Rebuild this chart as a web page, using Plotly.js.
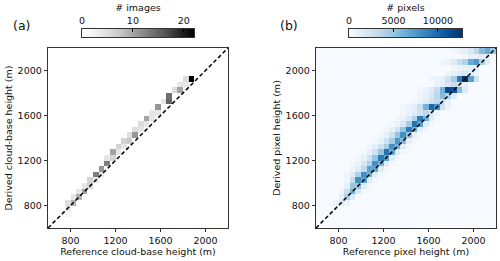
<!DOCTYPE html>
<html>
<head>
<meta charset="utf-8">
<script src="https://cdn.plot.ly/plotly-3.0.1.min.js"></script>
<style>html,body{margin:0;padding:0;background:#fff;}#chart{width:500px;height:261px;}</style>
</head>
<body>
<div id="chart"></div>
<script>
// Bin edges (m): 50 m bins from 600 to 2200
var binStart = 600;
var binWidth = 50;
var nBins = 32;

// Panel (a): sparse 2D histogram (reference bin lower edge, derived bin lower edge, # images)
var aRef   = [750,750,750, 800,800, 850,850, 900,900, 950,950, 1000,1000, 1050,1050, 1100,1100, 1150,1150, 1200,1200, 1250,1250, 1300,1300, 1350,1350, 1400,1400, 1450,1450, 1500,1500, 1550,1550, 1600, 1650,1650, 1700, 1750,1750, 1800,1800, 1850];
var aDer   = [700,750,800, 800,850, 850,900, 900,950, 950,1000, 1050,1000, 1100,1050, 1150,1200, 1200,1250, 1300,1250, 1350,1300, 1350,1400, 1400,1450, 1500,1450, 1550,1500, 1600,1550, 1650,1600, 1700, 1700,1750, 1800, 1800,1850, 1900,1850, 1900];
var aCount = [2,4,5, 9,4, 9,4, 10,4, 6,6, 13,4, 11,4, 13,4, 6,10, 6,4, 6,4, 7,5, 11,5, 5,4, 10,4, 4,4, 11,4, 4, 15,14, 5, 10,4, 5,4, 22];

// Panel (b): rows of the 2D histogram, by derived-height bin lower edge,
// each with the reference bin (lower edge) where the run starts and the # pixels
var bRowDer   = [800, 850, 900, 950, 1000, 1050, 1100, 1150, 1200, 1250, 1300, 1350, 1400, 1450, 1500, 1550, 1600, 1650, 1700, 1750, 1800, 1850, 1900, 1950, 2000, 2050, 2100, 2150];
var bRowStart = [750, 800, 800, 850, 850, 850, 900, 900, 950, 1000, 1050, 1100, 1150, 1200, 1250, 1300, 1350, 1350, 1450, 1500, 1500, 1650, 1600, 1750, 1800, 1700, 1900, 1800];
var bRowVals = [
  [600, 1500, 800],
  [1200, 4000, 1500],
  [600, 3000, 6000, 2000, 400],
  [1000, 5000, 5000, 1500, 400],
  [600, 3000, 8000, 7000, 1500, 400],
  [500, 1500, 4000, 8000, 6000, 1500, 400],
  [600, 1500, 3500, 7000, 6500, 1500, 400],
  [500, 800, 2000, 4000, 8000, 6000, 1500, 400],
  [500, 1000, 2500, 5000, 9000, 7000, 1500, 400],
  [500, 1000, 2500, 5000, 9500, 6500, 1500, 400],
  [500, 1200, 2500, 4500, 8000, 6000, 1500, 400],
  [500, 1000, 2500, 4500, 7500, 5500, 1200, 400],
  [500, 1000, 2500, 5000, 8000, 5000, 1000, 400],
  [500, 1000, 2500, 5000, 9000, 6000, 1200, 400],
  [400, 800, 2000, 4500, 9500, 7000, 1500, 400],
  [400, 800, 2000, 4000, 9000, 6000, 1500, 400],
  [400, 800, 1500, 2500, 3500, 2000, 800],
  [500, 800, 1200, 3000, 6000, 10000, 8000, 2500, 800],
  [400, 800, 1500, 2500, 3500, 2500, 1000],
  [600, 1000, 2000, 3500, 5500, 4000, 1500],
  [500, 800, 1500, 3000, 6000, 11500, 11000, 5500, 1500],
  [800, 1200, 2000, 3000, 2500, 1000],
  [500, 800, 1200, 2500, 4500, 9000, 12700, 7000, 2500],
  [600, 1000, 1500, 2000, 1500, 800],
  [500, 800, 1000, 1200, 1000],
  [500, 800, 1500, 3000, 4000, 6500, 7500, 4000, 1500],
  [500, 800, 1200, 1500, 1000],
  [500, 800, 1200, 2000, 3500, 5500, 6500, 5000]
];

// Colour-bar limits and ticks
var aMax = 22;
var bMax = 12700;
var aCbTicks = [0, 10, 20];
var bCbTicks = [0, 5000, 10000];
var axisTicks = [800, 1200, 1600, 2000];
var axisRange = [600, 2200];
var oneToOne = [600, 2200];

// ---- build matrices ----
function idx(v) { return Math.round((v - binStart) / binWidth); }
var zA = [], zB = [];
for (var j = 0; j < nBins; j++) {
  var ra = [], rb = [];
  for (var i = 0; i < nBins; i++) { ra.push(null); rb.push(0); }
  zA.push(ra); zB.push(rb);
}
for (var k = 0; k < aRef.length; k++) {
  zA[idx(aDer[k])][idx(aRef[k])] = aCount[k];
}
for (var r = 0; r < bRowDer.length; r++) {
  var jj = idx(bRowDer[r]), i0 = idx(bRowStart[r]);
  for (var c = 0; c < bRowVals[r].length; c++) if (i0 + c < nBins) zB[jj][i0 + c] = bRowVals[r][c];
}

var greys = [[0,'#ffffff'],[0.125,'#f0f0f0'],[0.25,'#d9d9d9'],[0.375,'#bdbdbd'],[0.5,'#969696'],[0.625,'#737373'],[0.75,'#525252'],[0.875,'#252525'],[1,'#000000']];
var blues = [[0,'#f7fbff'],[0.125,'#deebf7'],[0.25,'#c6dbef'],[0.375,'#9ecae1'],[0.5,'#6baed6'],[0.625,'#4292c6'],[0.75,'#2171b5'],[0.875,'#08519c'],[1,'#08306b']];

function ramp(mx) { var a = []; for (var q = 0; q <= 200; q++) a.push(mx * q / 200); return a; }
var rampA = ramp(aMax), rampB = ramp(bMax);

var c0 = binStart + binWidth / 2;
var traces = [
  {type:'heatmap', z:zA, x0:c0, dx:binWidth, y0:c0, dy:binWidth, colorscale:greys, zmin:0, zmax:aMax, showscale:false, xaxis:'x', yaxis:'y', hoverongaps:false},
  {type:'scatter', x:oneToOne, y:oneToOne, mode:'lines', line:{color:'#000', width:1.5, dash:'4px,2.5px'}, xaxis:'x', yaxis:'y', showlegend:false},
  {type:'heatmap', z:zB, x0:c0, dx:binWidth, y0:c0, dy:binWidth, colorscale:blues, zmin:0, zmax:bMax, showscale:false, xaxis:'x2', yaxis:'y2'},
  {type:'scatter', x:oneToOne, y:oneToOne, mode:'lines', line:{color:'#000', width:1.5, dash:'4px,2.5px'}, xaxis:'x2', yaxis:'y2', showlegend:false},
  {type:'heatmap', z:[rampA], x:rampA, y0:0.5, dy:1, colorscale:greys, zmin:0, zmax:aMax, showscale:false, xaxis:'x3', yaxis:'y3'},
  {type:'heatmap', z:[rampB], x:rampB, y0:0.5, dy:1, colorscale:blues, zmin:0, zmax:bMax, showscale:false, xaxis:'x4', yaxis:'y4'}
];

var font = {family:'DejaVu Sans, sans-serif', size:9, color:'#111'};
function mainAxis(dom, anchor, title) {
  return {domain:dom, anchor:anchor, range:axisRange, tickvals:axisTicks, ticks:'outside', ticklen:3.5, tickwidth:0.8,
    tickcolor:'#000', showline:true, linecolor:'#000', linewidth:0.8, mirror:true, showgrid:false, zeroline:false,
    tickfont:{size:9.5}, title:{text:title, font:{size:9.5}, standoff:3}};
}
var yDom = [33/261, 213/261];
var cbDom = [224/261, 232/261];
var layout = {
  width:500, height:261, margin:{l:0, r:0, t:0, b:0},
  paper_bgcolor:'#fff', plot_bgcolor:'#fff', font:font, showlegend:false,
  xaxis: mainAxis([48/500, 228/500], 'y', 'Reference cloud-base height (m)'),
  yaxis: mainAxis(yDom, 'x', 'Derived cloud-base height (m)'),
  xaxis2: mainAxis([316/500, 496/500], 'y2', 'Reference pixel height (m)'),
  yaxis2: mainAxis(yDom, 'x2', 'Derived pixel height (m)'),
  xaxis3: {domain:[82/500, 194/500], anchor:'y3', side:'top', range:[0, aMax], tickvals:aCbTicks, ticks:'inside', ticklen:3, tickcolor:'#000',
    showline:true, linecolor:'#000', linewidth:0.8, mirror:true, showgrid:false, zeroline:false, tickfont:{size:9.5},
    title:{text:'# images', font:{size:9.5}, standoff:1}},
  yaxis3: {domain:cbDom, anchor:'x3', range:[0,1], showticklabels:false, ticks:'', showline:true, linecolor:'#000', linewidth:0.8, mirror:true, showgrid:false, zeroline:false},
  xaxis4: {domain:[349/500, 462/500], anchor:'y4', side:'top', range:[0, bMax], tickvals:bCbTicks, ticktext:['0','5000','10000'], ticks:'inside', ticklen:3, tickcolor:'#000',
    showline:true, linecolor:'#000', linewidth:0.8, mirror:true, showgrid:false, zeroline:false, tickfont:{size:9.5},
    title:{text:'# pixels', font:{size:9.5}, standoff:1}},
  yaxis4: {domain:cbDom, anchor:'x4', range:[0,1], showticklabels:false, ticks:'', showline:true, linecolor:'#000', linewidth:0.8, mirror:true, showgrid:false, zeroline:false},
  annotations: [
    {text:'(a)', xref:'paper', yref:'paper', x:21/500, y:(261-26)/261, showarrow:false, font:{size:12.5}, xanchor:'center', yanchor:'middle'},
    {text:'(b)', xref:'paper', yref:'paper', x:289/500, y:(261-26)/261, showarrow:false, font:{size:12.5}, xanchor:'center', yanchor:'middle'}
  ]
};
Plotly.newPlot('chart', traces, layout, {staticPlot:true, displayModeBar:false});
</script>
</body>
</html>
